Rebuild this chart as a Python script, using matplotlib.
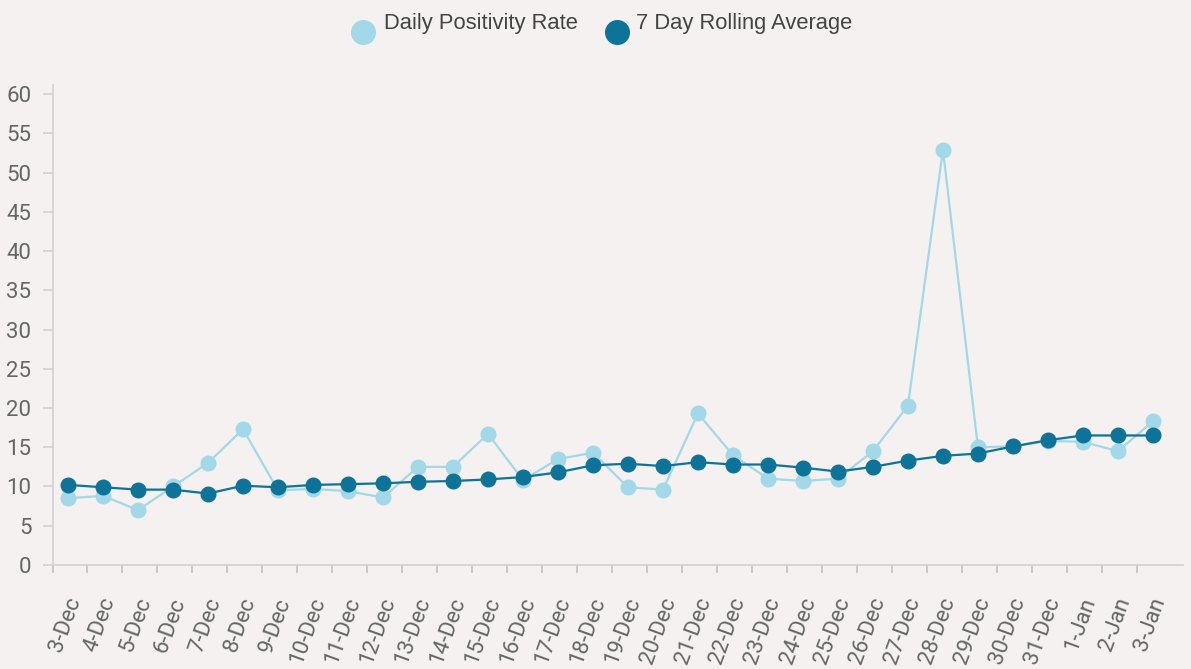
import numpy as np
import matplotlib
matplotlib.use("Agg")
import matplotlib.pyplot as plt
import matplotlib.transforms as mtransforms
from matplotlib.lines import Line2D

dates = ["3-Dec", "4-Dec", "5-Dec", "6-Dec", "7-Dec", "8-Dec", "9-Dec", "10-Dec",
         "11-Dec", "12-Dec", "13-Dec", "14-Dec", "15-Dec", "16-Dec", "17-Dec", "18-Dec",
         "19-Dec", "20-Dec", "21-Dec", "22-Dec", "23-Dec", "24-Dec", "25-Dec", "26-Dec",
         "27-Dec", "28-Dec", "29-Dec", "30-Dec", "31-Dec", "1-Jan", "2-Jan", "3-Jan"]
daily = [8.5, 8.8, 7.0, 10.0, 13.0, 17.3, 9.5, 9.7, 9.4, 8.6, 12.5, 12.5, 16.7, 10.8,
         13.5, 14.3, 9.9, 9.6, 19.3, 14.0, 11.0, 10.7, 11.0, 14.5, 20.3, 52.9, 15.0,
         15.1, 15.8, 15.7, 14.5, 18.3]
rolling = [10.2, 9.9, 9.6, 9.6, 9.1, 10.1, 9.9, 10.2, 10.3, 10.4, 10.6, 10.7, 10.9,
           11.2, 11.8, 12.7, 12.9, 12.6, 13.1, 12.8, 12.8, 12.4, 11.9, 12.5, 13.3, 13.9,
           14.2, 15.1, 15.9, 16.5, 16.5, 16.5]
series_names = ["Daily Positivity Rate", "7 Day Rolling Average"]
yticks = list(range(0, 61, 5))

bg = "#f4f1f0"
light = "#a3d8e8"
dark = "#0e7398"
W, H = 1191, 669

fig = plt.figure(figsize=(W / 100, H / 100), dpi=100, facecolor=bg)
ax = fig.add_axes([0.0445, 0.1555, 0.9488, 0.718])
ax.set_facecolor(bg)

x = np.arange(len(dates))
ax.plot(x, daily, color=light, lw=1.6, marker="o", ms=10.5, zorder=2)
ax.plot(x, rolling, color=dark, lw=1.6, marker="o", ms=10.5, zorder=3)

ax.set_xlim(-0.43, 31.86)
ax.set_ylim(0, 61.2)
ax.set_yticks(yticks)
ax.set_yticklabels([str(v) for v in yticks], fontsize=16, color="#666666", family="Roboto")
ax.set_xticks(x)
ax.set_xticklabels(dates, rotation=70, rotation_mode="anchor", ha="right", va="center",
                   fontsize=16, color="#666666", family="Roboto")
ax.tick_params(axis="x", length=0, pad=24)
# nudge the rotated labels a bit to the right, like the original
shift = mtransforms.ScaledTranslation(7 / 100, 0, fig.dpi_scale_trans)
for lbl in ax.get_xticklabels():
    lbl.set_transform(lbl.get_transform() + shift)
ax.set_xticks(np.r_[-0.43, np.arange(0.55, 31, 1)], minor=True)
ax.tick_params(axis="x", which="minor", length=6, color="#c4c0c0", width=1.2)
ax.tick_params(axis="y", length=7.5, color="#d4d0d0", width=1.2, pad=8)

for s in ["top", "right"]:
    ax.spines[s].set_visible(False)
for s in ["left", "bottom"]:
    ax.spines[s].set_color("#d4d0d0")
    ax.spines[s].set_linewidth(1.2)

# legend drawn by hand in figure pixels
leg = [(363, 384), (617, 636)]
for (cx, tx), name, col in zip(leg, series_names, [light, dark]):
    fig.add_artist(Line2D([cx / W], [1 - 32 / H], transform=fig.transFigure,
                          ls="none", marker="o", ms=17, color=col))
    fig.text(tx / W, 1 - 23 / H, name, ha="left", va="center", fontsize=15.8,
             family="Liberation Sans", color="#444444")

fig.savefig("out.png", dpi=100, facecolor=bg)
